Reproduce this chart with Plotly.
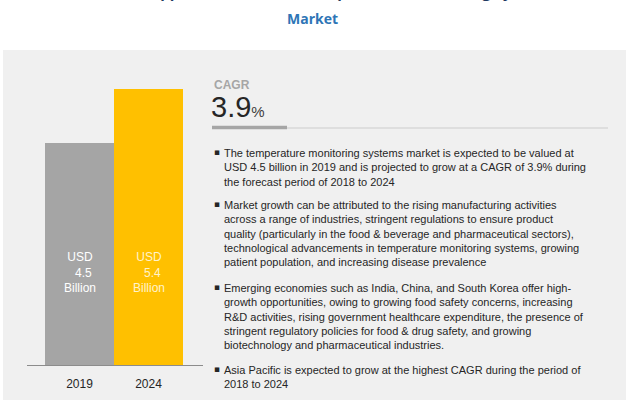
import plotly.graph_objects as go

W, H = 631, 400

years = ["2019", "2024"]
values = [4.5, 5.4]
bar_colors = ["#A5A5A5", "#FFC000"]
bar_labels = ["USD<br>\u00a0\u00a04.5<br>Billion", "USD<br>\u00a0\u00a05.4<br>Billion"]
label_colors = ["#FFFFFF", "#FFF3CC"]

title_top = "Attractive Opportunities in the Temperature Monitoring Systems"
title_bottom = "Market"
cagr_value = "3.9"

bullets = [
    "The temperature monitoring systems market is expected to be valued at<br>"
    "USD 4.5 billion in 2019 and is projected to grow at a CAGR of 3.9% during<br>"
    "the forecast period of 2018 to 2024",
    "Market growth can be attributed to the rising manufacturing activities<br>"
    "across a range of industries, stringent regulations to ensure product<br>"
    "quality (particularly in the food &amp; beverage and pharmaceutical sectors),<br>"
    "technological advancements in temperature monitoring systems, growing<br>"
    "patient population, and increasing disease prevalence",
    "Emerging economies such as India, China, and South Korea offer high-<br>"
    "growth opportunities, owing to growing food safety concerns, increasing<br>"
    "R&amp;D activities, rising government healthcare expenditure, the presence of<br>"
    "stringent regulatory policies for food &amp; drug safety, and growing<br>"
    "biotechnology and pharmaceutical industries.",
    "Asia Pacific is expected to grow at the highest CAGR during the period of<br>"
    "2018 to 2024",
]
bullet_tops = [145, 197, 280, 362]


def px(x):
    return x / W


def py(y):
    return 1 - y / H


fig = go.Figure()
fig.add_trace(go.Bar(
    x=years, y=values, marker=dict(color=bar_colors, line=dict(width=0)),
    width=1, hoverinfo="skip",
))

annotations = []
for i, (lab, c) in enumerate(zip(bar_labels, label_colors)):
    annotations.append(dict(
        x=i, y=2.35, xref="x", yref="y", text=lab, showarrow=False,
        font=dict(family="Liberation Sans, Arial", size=12, color=c),
        align="center", xanchor="center", yanchor="middle",
    ))

annotations.append(dict(
    x=px(312), y=py(-8), xref="paper", yref="paper", text="<b>" + title_top + "</b>",
    showarrow=False, font=dict(family="Open Sans", size=15, color="#1F3A60"),
    xanchor="center", yanchor="middle",
))
annotations.append(dict(
    x=px(312), y=py(18), xref="paper", yref="paper", text="<b>" + title_bottom + "</b>",
    showarrow=False, font=dict(family="Open Sans", size=14, color="#2E75B6"),
    xanchor="center", yanchor="middle",
))
annotations.append(dict(
    x=px(212), y=py(85), xref="paper", yref="paper", text="<b>CAGR</b>",
    showarrow=False, font=dict(family="Liberation Sans Narrow, Liberation Sans", size=12, color="#A6A6A6"),
    xanchor="left", yanchor="middle",
))
annotations.append(dict(
    x=px(209), y=py(107), xref="paper", yref="paper",
    text=cagr_value + "<span style='font-size:15px;color:#404040'>%</span>",
    showarrow=False, font=dict(family="Liberation Sans", size=29, color="#262626"),
    xanchor="left", yanchor="middle",
))

for txt, top in zip(bullets, bullet_tops):
    annotations.append(dict(
        x=px(212), y=py(top), xref="paper", yref="paper", text="\u25aa",
        showarrow=False, font=dict(family="DejaVu Sans", size=9, color="#262626"),
        xanchor="left", yanchor="top",
    ))
    annotations.append(dict(
        x=px(222), y=py(top), xref="paper", yref="paper", text=txt,
        showarrow=False, font=dict(family="Liberation Sans", size=11, color="#262626"),
        xanchor="left", yanchor="top", align="left",
    ))

shapes = [
    dict(type="rect", xref="paper", yref="paper", x0=px(3), x1=px(626), y0=py(400), y1=py(50),
         fillcolor="#F0F0F0", line=dict(width=0), layer="below"),
    dict(type="line", xref="paper", yref="paper", x0=px(287), x1=px(608), y0=py(128), y1=py(128),
         line=dict(color="#D9D9D9", width=1.5)),
    dict(type="line", xref="paper", yref="paper", x0=px(212), x1=px(287), y0=py(127.5), y1=py(127.5),
         line=dict(color="#A6A6A6", width=3.5)),
]

fig.update_layout(
    width=W, height=H, margin=dict(l=0, r=0, t=0, b=0),
    paper_bgcolor="white", plot_bgcolor="rgba(0,0,0,0)",
    showlegend=False, bargap=0,
    xaxis=dict(domain=[px(27), px(203)], range=[-0.761, 1.79], type="category",
               showline=True, linecolor="#8C8C8C", linewidth=1,
               ticks="outside", ticklen=8, tickcolor="rgba(0,0,0,0)",
               showgrid=False, zeroline=False,
               tickfont=dict(family="Liberation Sans", size=12, color="#262626")),
    yaxis=dict(domain=[py(365), py(65)], range=[0.8, 5.8], visible=False,
               showgrid=False, zeroline=False),
    annotations=annotations, shapes=shapes,
)

fig.write_html("out.html")
